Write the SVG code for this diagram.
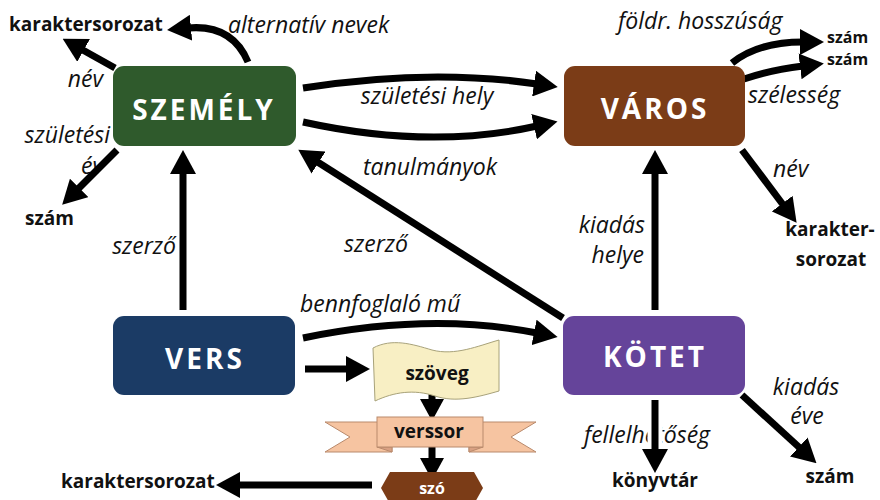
<svg xmlns="http://www.w3.org/2000/svg" width="880" height="500" viewBox="0 0 880 500">
<style>
.box{stroke:none}
.nl{font-family:"Open Sans","Liberation Sans",sans-serif;font-weight:bold;font-size:28px;fill:#ffffff;text-anchor:middle;letter-spacing:3px}
.el{font-family:"Open Sans","Liberation Sans",sans-serif;font-style:italic;font-size:23px;fill:#111111}
.tl{font-family:"Open Sans","Liberation Sans",sans-serif;font-weight:bold;font-size:19px;fill:#111111}
.ed{fill:none;stroke:#000000;stroke-width:7;marker-end:url(#ah)}
.sm{fill:none;stroke:#000000;stroke-width:7;marker-end:url(#ahs)}
.halo{fill:none;stroke:#ffffff;stroke-width:15}
</style>
<defs>
<marker id="ah" markerUnits="userSpaceOnUse" markerWidth="24" markerHeight="26" refX="3" refY="13" orient="auto">
<path d="M0,0 L24,13 L0,26 Z" fill="#000000"/>
</marker>
<marker id="ahs" markerUnits="userSpaceOnUse" markerWidth="22" markerHeight="24" refX="3" refY="12" orient="auto">
<path d="M0,0 L22,12 L0,24 Z" fill="#000000"/>
</marker>
</defs>
<rect x="0" y="0" width="880" height="500" fill="#ffffff"/>

<g id="labels">
<text class="tl" x="9" y="31">karaktersorozat</text>
<text class="el" x="228" y="33">alternatív nevek</text>
<text class="el" x="103" y="87" text-anchor="end">név</text>
<text class="el" x="110" y="143" text-anchor="end">születési</text>
<text class="el" x="92" y="174" text-anchor="middle">év</text>
<text class="tl" x="25" y="225">szám</text>
<text class="el" x="176" y="254" text-anchor="end">szerző</text>
<text class="el" x="427" y="104" text-anchor="middle">születési hely</text>
<text class="el" x="430" y="175" text-anchor="middle">tanulmányok</text>
<text class="el" x="376" y="252" text-anchor="middle">szerző</text>
<text class="el" x="300" y="312">bennfoglaló mű</text>
<text class="tl" x="61" y="488">karaktersorozat</text>
<text class="el" x="645" y="233" text-anchor="end">kiadás</text>
<text class="el" x="644" y="263" text-anchor="end">helye</text>
<text class="el" x="618" y="29">földr. hosszúság</text>
<text class="tl" x="827" y="43" style="font-size:16px">szám</text>
<text class="tl" x="827" y="65" style="font-size:16px">szám</text>
<text class="el" x="748" y="103">szélesség</text>
<text class="el" x="773" y="177">név</text>
<text class="tl" x="830" y="236" text-anchor="middle">karakter-</text>
<text class="tl" x="831" y="266" text-anchor="middle">sorozat</text>
<text class="el" x="647" y="443" text-anchor="middle">fellelhetőség</text>
<text class="tl" x="655" y="487" text-anchor="middle">könyvtár</text>
<text class="el" x="806" y="395" text-anchor="middle">kiadás</text>
<text class="el" x="807" y="424" text-anchor="middle">éve</text>
<text class="tl" x="830" y="483" text-anchor="middle">szám</text>
</g>

<g id="connectors">
<path class="ed" d="M248,62 Q232,24 188,28"/>
<path class="ed" d="M115,68 L81,49"/>
<path class="ed" d="M117,150 L77,190"/>
<path class="ed" d="M183,310 L183,171"/>
<path class="ed" d="M303,88 Q430,68 537,84"/>
<path class="ed" d="M303,122 Q430,150 537,126"/>
<path class="ed" d="M563,318 L316,161"/>
<path class="ed" d="M303,338 Q430,312 537,333"/>
<path class="ed" d="M305,369 L349,369"/>
<path class="sm" d="M432,385 L432,402"/>
<path class="sm" d="M432,443 L432,461"/>
<path class="ed" d="M372,485 L237,485"/>
<path class="ed" d="M655,310 L655,171"/>
<path class="ed" d="M732,63 Q758,42 803,42"/>
<path class="ed" d="M744,79 Q770,70 803,66"/>
<path class="ed" d="M742,150 L784,206"/>
<path class="halo" d="M655,420 L655,452"/>
<path class="ed" d="M655,400 L655,452"/>
<path class="ed" d="M742,395 L801,449"/>
</g>

<g id="szemely">
<rect class="box" x="113" y="66" width="183" height="80" rx="11" fill="#2f5a2c"/>
<text class="nl" x="204" y="120">SZEMÉLY</text>
</g>
<g id="varos">
<rect class="box" x="564" y="66" width="181" height="80" rx="11" fill="#7b3c17"/>
<text class="nl" x="655" y="119">VÁROS</text>
</g>
<g id="vers">
<rect class="box" x="113" y="316" width="182" height="79" rx="11" fill="#1b3b65"/>
<text class="nl" x="205" y="369">VERS</text>
</g>
<g id="kotet">
<rect class="box" x="563" y="316" width="182" height="79" rx="11" fill="#65449a"/>
<text class="nl" x="655" y="367">KÖTET</text>
</g>
<g id="szoveg">
<path d="M373,348 C392,338 412,344 432,350 C455,356 478,346 499,340 L499,391 C478,397 456,403 435,396 C414,389 394,392 375,401 Z" fill="#f8efc4" stroke="#a8a27a" stroke-width="1"/>
<text class="tl" x="437" y="380" text-anchor="middle">szöveg</text>
</g>
<g id="verssor">
<path d="M325,422 L392,422 L392,452 L325,452 L350,437 Z" fill="#f6c4a1" stroke="#b98a6c" stroke-width="1"/>
<path d="M536,422 L469,422 L469,452 L536,452 L511,437 Z" fill="#f6c4a1" stroke="#b98a6c" stroke-width="1"/>
<path d="M377,447 L392,452 L392,447 Z" fill="#d9a183" stroke="#b98a6c" stroke-width="1"/>
<path d="M483,447 L469,452 L469,447 Z" fill="#d9a183" stroke="#b98a6c" stroke-width="1"/>
<rect x="377" y="417" width="106" height="30" fill="#f6c4a1" stroke="#b98a6c" stroke-width="1"/>
<text class="tl" x="429" y="438" text-anchor="middle">verssor</text>
</g>
<g id="szo">
<path d="M390,472 L474,472 L483,488 L474,504 L390,504 L381,488 Z" fill="#7b3c17"/>
<text class="tl" x="432" y="494" text-anchor="middle" style="fill:#ffffff;font-size:16px">szó</text>
</g>
</svg>
